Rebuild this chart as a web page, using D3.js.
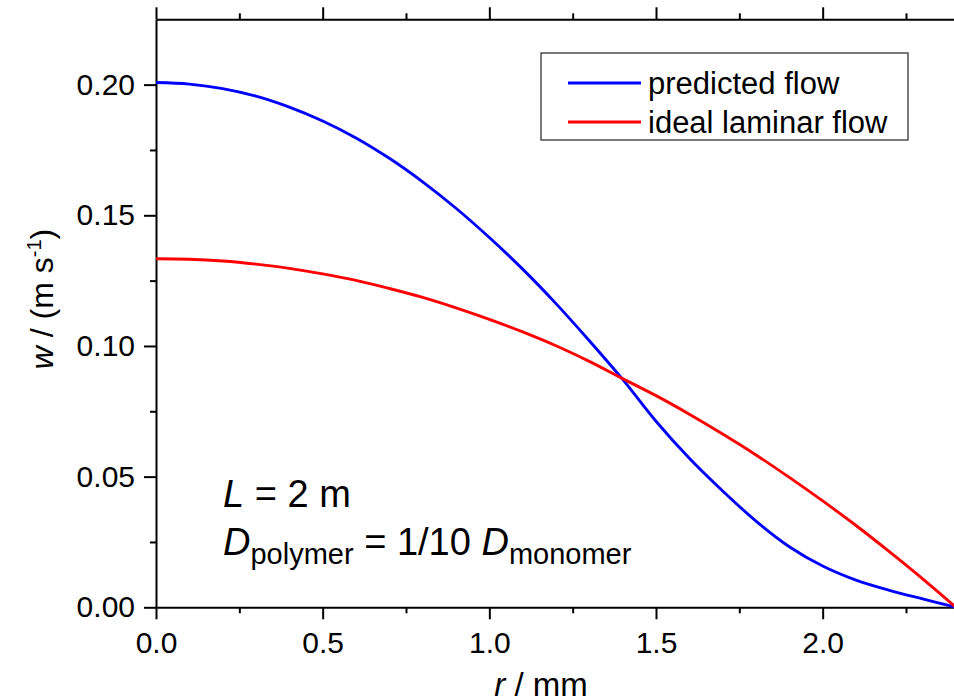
<!DOCTYPE html>
<html>
<head>
<meta charset="utf-8">
<script src="https://cdn.jsdelivr.net/npm/d3@7/dist/d3.min.js"></script>
<style>
  html, body { margin: 0; padding: 0; background: #fff; }
  svg { display: block; font-family: "Liberation Sans", Arial, sans-serif; }
</style>
</head>
<body>
<svg id="chart" width="954" height="699"></svg>
<script>
// Radial position r (mm) and axial velocity w (m/s)
const predictedR = [0, 0.1, 0.2, 0.3, 0.4, 0.5, 0.6, 0.7, 0.8, 0.9, 1.0, 1.1, 1.2, 1.3, 1.4, 1.5, 1.6, 1.7, 1.8, 1.9, 2.0, 2.1, 2.2, 2.3, 2.4];
const predictedW = [0.2008, 0.2002, 0.1985, 0.1956, 0.1914, 0.1861, 0.1796, 0.1718, 0.1628, 0.1527, 0.1415, 0.1294, 0.1162, 0.1020, 0.0872, 0.0712, 0.0570, 0.0445, 0.0330, 0.0232, 0.0158, 0.0104, 0.0065, 0.0032, 0.0000];

const idealR = [0, 0.1, 0.2, 0.3, 0.4, 0.5, 0.6, 0.7, 0.8, 0.9, 1.0, 1.1, 1.2, 1.3, 1.4, 1.5, 1.6, 1.7, 1.8, 1.9, 2.0, 2.1, 2.2, 2.3, 2.4];
const idealW = [0.1334, 0.1332, 0.1325, 0.1313, 0.1297, 0.1276, 0.1251, 0.1220, 0.1186, 0.1146, 0.1102, 0.1054, 0.1001, 0.0941, 0.0875, 0.0810, 0.0739, 0.0663, 0.0583, 0.0497, 0.0407, 0.0313, 0.0213, 0.0109, 0.0000];

const xMajorTicks = [0, 0.5, 1.0, 1.5, 2.0];
const xMinorTicks = [0.25, 0.75, 1.25, 1.75, 2.25];
const yMajorTicks = [0, 0.05, 0.10, 0.15, 0.20];
const yMinorTicks = [0.025, 0.075, 0.125, 0.175];

const seriesNames = ["predicted flow", "ideal laminar flow"];
const seriesColors = ["#0000ff", "#ff0000"];

const svg = d3.select("#chart");

const x = d3.scaleLinear().domain([0, 2.4]).range([156, 956]);
const y = d3.scaleLinear().domain([0, 0.225]).range([607.3, 19.3]);

const tickFont = 30;

function styleAxis(g) {
  g.attr("font-family", null).attr("font-size", null);
  g.select(".domain").attr("stroke", "#000").attr("stroke-width", 2);
  g.selectAll(".tick line").attr("stroke", "#000").attr("stroke-width", 2);
  g.selectAll(".tick text").attr("fill", "#000").style("font-size", tickFont + "px");
}

// bottom axis
svg.append("g")
  .attr("transform", `translate(0,${y(0)})`)
  .call(d3.axisBottom(x).tickValues(xMajorTicks).tickSize(12).tickSizeOuter(0)
    .tickPadding(12).tickFormat(d3.format(".1f")))
  .call(styleAxis);
svg.append("g")
  .attr("transform", `translate(0,${y(0)})`)
  .call(d3.axisBottom(x).tickValues(xMinorTicks).tickSize(6).tickFormat(""))
  .call(g => { styleAxis(g); g.select(".domain").remove(); });

// top axis
svg.append("g")
  .attr("transform", `translate(0,${y(0.225)})`)
  .call(d3.axisTop(x).tickValues(xMajorTicks).tickSize(12).tickSizeOuter(0).tickFormat(""))
  .call(styleAxis);
svg.append("g")
  .attr("transform", `translate(0,${y(0.225)})`)
  .call(d3.axisTop(x).tickValues(xMinorTicks).tickSize(6).tickFormat(""))
  .call(g => { styleAxis(g); g.select(".domain").remove(); });

// left axis
svg.append("g")
  .attr("transform", `translate(${x(0)},0)`)
  .call(d3.axisLeft(y).tickValues(yMajorTicks).tickSize(12).tickSizeOuter(0)
    .tickPadding(9).tickFormat(d3.format(".2f")))
  .call(styleAxis);
svg.append("g")
  .attr("transform", `translate(${x(0)},0)`)
  .call(d3.axisLeft(y).tickValues(yMinorTicks).tickSize(6).tickFormat(""))
  .call(g => { styleAxis(g); g.select(".domain").remove(); });

// right axis
svg.append("g")
  .attr("transform", `translate(${x(2.4)},0)`)
  .call(d3.axisRight(y).tickValues(yMajorTicks).tickSize(12).tickSizeOuter(0).tickFormat(""))
  .call(styleAxis);

// velocity profiles
const line = d3.line().x(d => x(d[0])).y(d => y(d[1])).curve(d3.curveCatmullRom.alpha(0.5));
const series = [
  d3.zip(predictedR, predictedW),
  d3.zip(idealR, idealW)
];
svg.append("g").selectAll("path.curve")
  .data(series)
  .join("path")
  .attr("class", "curve")
  .attr("d", line)
  .attr("fill", "none")
  .attr("stroke", (d, i) => seriesColors[i])
  .attr("stroke-width", 2.9)
  .attr("stroke-linejoin", "round");

// legend
const legend = svg.append("g");
legend.append("rect")
  .attr("x", 541).attr("y", 53).attr("width", 367).attr("height", 87)
  .attr("fill", "#fff").attr("stroke", "#333").attr("stroke-width", 1.3);
seriesNames.forEach((name, i) => {
  const cy = 83 + i * 39;
  legend.append("line")
    .attr("x1", 568).attr("x2", 641).attr("y1", cy).attr("y2", cy)
    .attr("stroke", seriesColors[i]).attr("stroke-width", 2.9);
  legend.append("text")
    .attr("x", 648).attr("y", cy + 10.5)
    .style("font-size", "31px").attr("fill", "#000")
    .text(name);
});

// axis titles
const xTitle = svg.append("text")
  .attr("x", 541).attr("y", 696)
  .attr("text-anchor", "middle")
  .style("font-size", "33px");
xTitle.append("tspan").attr("font-style", "italic").text("r");
xTitle.append("tspan").text(" / mm");

const yTitle = svg.append("text")
  .attr("transform", "translate(53,299) rotate(-90)")
  .attr("text-anchor", "middle")
  .style("font-size", "32px");
yTitle.append("tspan").attr("font-style", "italic").text("w");
yTitle.append("tspan").text(" / (m s");
yTitle.append("tspan").attr("dy", -12).style("font-size", "20px").text("-1");
yTitle.append("tspan").attr("dy", 12).text(")");

// run parameters
const note1 = svg.append("text").attr("x", 223).attr("y", 507).style("font-size", "38px");
note1.append("tspan").attr("font-style", "italic").text("L");
note1.append("tspan").text(" = 2 m");

const note2 = svg.append("text").attr("x", 223).attr("y", 555).style("font-size", "38px");
note2.append("tspan").attr("font-style", "italic").text("D");
note2.append("tspan").attr("dy", 9).style("font-size", "29px").text("polymer");
note2.append("tspan").attr("dy", -9).text(" = 1/10 ");
note2.append("tspan").attr("font-style", "italic").text("D");
note2.append("tspan").attr("dy", 9).style("font-size", "29px").text("monomer");
</script>
</body>
</html>
